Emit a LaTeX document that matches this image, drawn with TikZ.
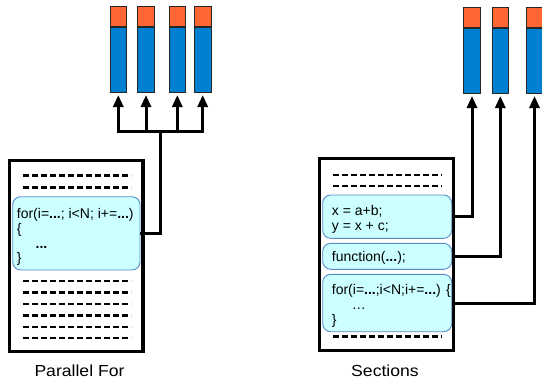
\documentclass[tikz,border=0pt]{standalone}
\usepackage{graphicx}
\usepackage{fontspec}
\setmainfont{Liberation Sans}
\usetikzlibrary{arrows.meta,calc}
\definecolor{corefill}{HTML}{0080D0}
\definecolor{capfill}{HTML}{FF6633}
\definecolor{codefill}{HTML}{CCFFFF}
\definecolor{codeline}{HTML}{5A8AC8}
\tikzset{
  core/.style={draw=black!85, line width=0.9pt, fill=corefill, minimum width=16.5pt,
    minimum height=65pt, inner sep=0pt, anchor=south},
  corecap/.style={draw=black!85, line width=0.9pt, fill=capfill, minimum width=16.5pt,
    minimum height=20pt, inner sep=0pt, anchor=south},
  prog/.style={draw, line width=3.2pt, inner sep=0pt},
  codebox/.style={draw=codeline, fill=codefill, rounded corners=8pt, line width=0.9pt, inner sep=0pt},
  code/.style={anchor=base west, inner sep=0pt, font=\fontsize{14}{16}\selectfont},
  dots/.style={line width=2.7pt, dash pattern=on 6pt off 3pt},
  link/.style={line width=3pt},
  fork/.style={line width=3pt, -{Triangle[width=10pt,length=12pt]}, shorten >=2pt},
  caption/.style={anchor=base, inner sep=0pt, font=\fontsize{16}{19}\selectfont}
}
\begin{document}
\begin{tikzpicture}[x=1pt,y=-1pt]
\useasboundingbox (0,0) rectangle (542,380);

% ---------- Parallel For ----------
\foreach \n/\x in {1/118.3,2/146,3/177.3,4/202.7}{
  \node[core] (l\n) at (\x,93) {};
  \node[corecap] (lc\n) at (l\n.north) {};
}
\node[prog, minimum width=133.5pt, minimum height=191pt] (lprog) at (76.25,256) {};
\foreach \y in {175.7,187.7,281,292.5,304,315.5,327,338}
  \draw[dots] (23,\y) -- (131,\y);
\node[codebox, minimum width=127.3pt, minimum height=73.3pt] (lbox) at (76.35,233.35) {};
\node[code] (lt1) at (16.7,218.5) {for(i=\textbf{...}; i<N; i+=\textbf{...})};
\node[code] (lt2) at (16.7,233.5) {\{};
\node[code] (lt3) at (35.5,248) {\textbf{...}};
\node[code] (lt4) at (16.7,262.5) {\}};

\coordinate (lbus) at (160.7,131.7);
\draw[link, line cap=rect] (lbus -| l1.south) -- (lbus -| l4.south);
\foreach \n in {1,2,3,4}
  \draw[fork] (lbus -| l\n.south) -- (l\n.south);
\draw[link] (lbox.east) -| (lbus);

\node[caption] (lcap) at (79.5,376) {\scalebox{1.1}[1]{Parallel For}};

% ---------- Sections ----------
\foreach \n/\x in {1/472,2/500.3,3/534.5}{
  \node[core] (r\n) at (\x,94) {};
  \node[corecap] (rc\n) at (r\n.north) {};
}
\node[prog, minimum width=134.3pt, minimum height=192pt] (rprog) at (386.65,254.5) {};
\foreach \y in {175,186,336.7}
  \draw[dots] (333,\y) -- (442,\y);
\node[codebox, minimum width=129pt, minimum height=43.3pt] (rbox1) at (387.2,216.65) {};
\node[codebox, minimum width=129pt, minimum height=26pt] (rbox2) at (387.2,256.3) {};
\node[codebox, minimum width=129pt, minimum height=57.4pt] (rbox3) at (387.2,303) {};
\node[code] (rt1) at (331.7,215) {x = a+b;};
\node[code] (rt2) at (331.7,230) {y = x + c;};
\node[code] (rt3) at (331.7,261.5) {function(\textbf{...});};
\node[code] (rt4) at (331.7,294.5) {for(i=\textbf{...};i<N;i+=\textbf{...}) \{};
\node[code] (rt5) at (351.7,309.5) {…};
\node[code] (rt6) at (331.7,324.5) {\}};

\draw[fork] (rbox1.east) -| (r1.south);
\draw[fork] (rbox2.east) -| (r2.south);
\draw[fork] (rbox3.east) -| (r3.south);

\node[caption] (rcap) at (385,376) {\scalebox{1.1}[1]{Sections}};
\end{tikzpicture}
\end{document}
